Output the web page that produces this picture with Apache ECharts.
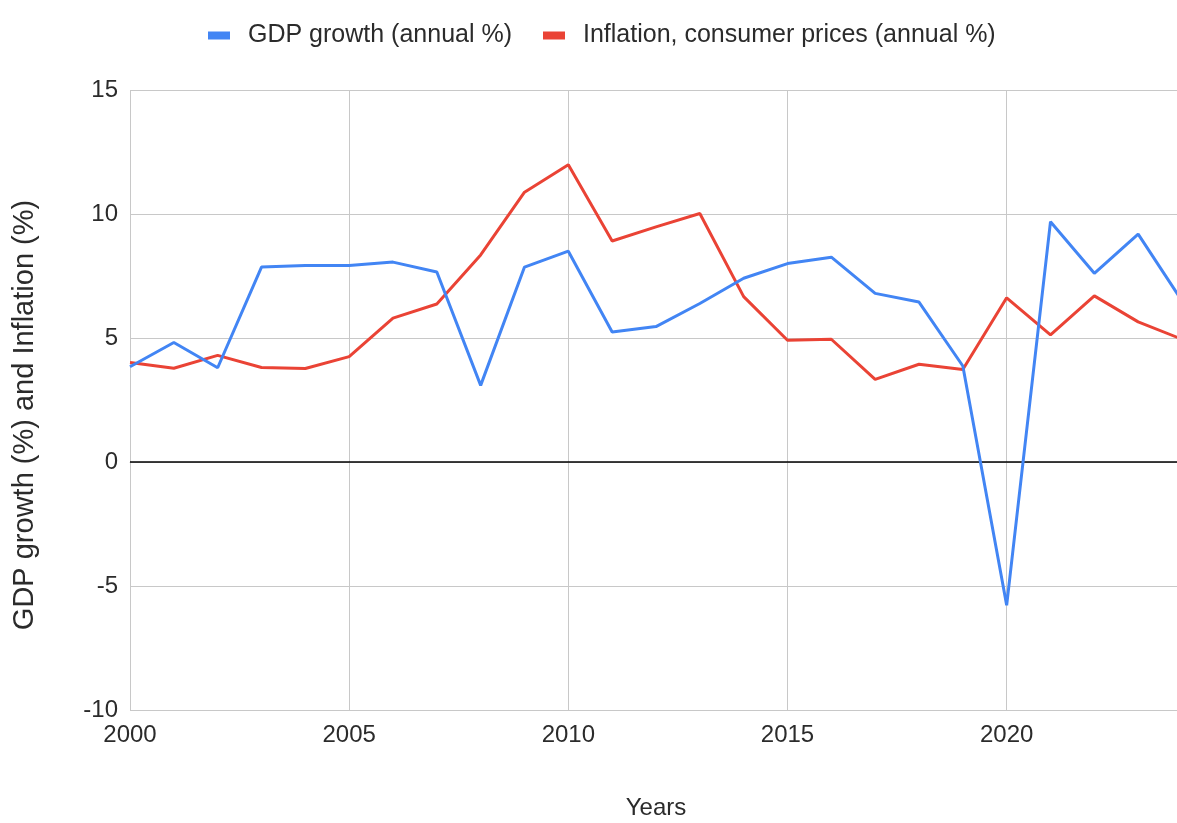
<!DOCTYPE html>
<html>
<head>
<meta charset="utf-8">
<script src="https://cdn.jsdelivr.net/npm/echarts@6/dist/echarts.min.js"></script>
<style>
  html, body { margin: 0; padding: 0; background: #fff; }
  #chart { width: 1177px; height: 823px; }
</style>
</head>
<body>
<div id="chart"></div>
<script>
// Years covered by both series
const years = [2000, 2001, 2002, 2003, 2004, 2005, 2006, 2007, 2008, 2009, 2010, 2011,
               2012, 2013, 2014, 2015, 2016, 2017, 2018, 2019, 2020, 2021, 2022, 2023, 2024];

// GDP growth (annual %)
const gdpGrowth = [3.84, 4.82, 3.80, 7.86, 7.92, 7.92, 8.06, 7.66, 3.09, 7.86, 8.50, 5.24,
                   5.46, 6.39, 7.41, 8.00, 8.26, 6.80, 6.45, 3.87, -5.78, 9.69, 7.61, 9.19, 6.50];

// Inflation, consumer prices (annual %)
const inflation = [4.01, 3.78, 4.30, 3.81, 3.77, 4.25, 5.80, 6.37, 8.35, 10.88, 11.99, 8.91,
                   9.48, 10.02, 6.67, 4.91, 4.95, 3.33, 3.94, 3.73, 6.62, 5.13, 6.70, 5.65, 4.95];

const seriesNames = ['GDP growth (annual %)', 'Inflation, consumer prices (annual %)'];
const yTicks = { min: -10, max: 15, step: 5 };
const xTicks = { min: 2000, max: 2024, step: 5 };

const pairs = vals => years.map((y, i) => [y, vals[i]]);

const FONT = '"Liberation Sans", Arial, sans-serif';
const TEXT = '#2b2b2b';

const chart = echarts.init(document.getElementById('chart'), null, { renderer: 'canvas' });

chart.setOption({
  backgroundColor: '#ffffff',
  animation: false,
  textStyle: { fontFamily: FONT },
  legend: {
    top: 18,
    left: 203,
    itemWidth: 22,
    itemHeight: 8,
    itemGap: 31,
    icon: 'rect',
    textStyle: { fontSize: 25, color: TEXT, fontFamily: FONT, padding: [0, 0, 0, 13] },
    data: seriesNames
  },
  grid: {
    left: 130,
    top: 90,
    width: 1052,
    bottom: 113,
    containLabel: false,
    outerBoundsMode: 'none'
  },
  xAxis: {
    type: 'value',
    min: xTicks.min,
    max: xTicks.max,
    interval: xTicks.step,
    name: 'Years',
    nameLocation: 'middle',
    nameGap: 86,
    nameTextStyle: { fontSize: 24, color: TEXT, fontFamily: FONT },
    axisLine: { show: true, lineStyle: { color: '#c8c8c8', width: 1 } },
    axisTick: { show: false },
    axisLabel: {
      fontSize: 24, color: TEXT, fontFamily: FONT, margin: 13,
      showMaxLabel: false,
      formatter: v => String(v)
    },
    splitLine: { show: true, lineStyle: { color: '#c8c8c8', width: 1 } }
  },
  yAxis: {
    type: 'value',
    min: yTicks.min,
    max: yTicks.max,
    interval: yTicks.step,
    name: 'GDP growth (%) and Inflation (%)',
    nameLocation: 'middle',
    nameGap: 91,
    nameTextStyle: { fontSize: 29, color: TEXT, fontFamily: FONT, padding: [0, 30, 0, 0] },
    axisLine: { show: false },
    axisTick: { show: false },
    axisLabel: { fontSize: 24, color: TEXT, fontFamily: FONT, margin: 12 },
    splitLine: { show: true, lineStyle: { color: '#c8c8c8', width: 1 } }
  },
  series: [
    {
      name: seriesNames[0],
      type: 'line',
      data: pairs(gdpGrowth),
      showSymbol: false,
      symbol: 'none',
      color: '#4285f4',
      lineStyle: { width: 3, color: '#4285f4' },
      z: 3,
      markLine: {
        silent: true,
        symbol: 'none',
        label: { show: false },
        lineStyle: { color: '#000000', width: 1.5, type: 'solid' },
        data: [{ yAxis: 0 }],
        z: 1
      }
    },
    {
      name: seriesNames[1],
      type: 'line',
      data: pairs(inflation),
      showSymbol: false,
      symbol: 'none',
      color: '#ea4335',
      lineStyle: { width: 3, color: '#ea4335' },
      z: 2
    }
  ]
});
</script>
</body>
</html>
